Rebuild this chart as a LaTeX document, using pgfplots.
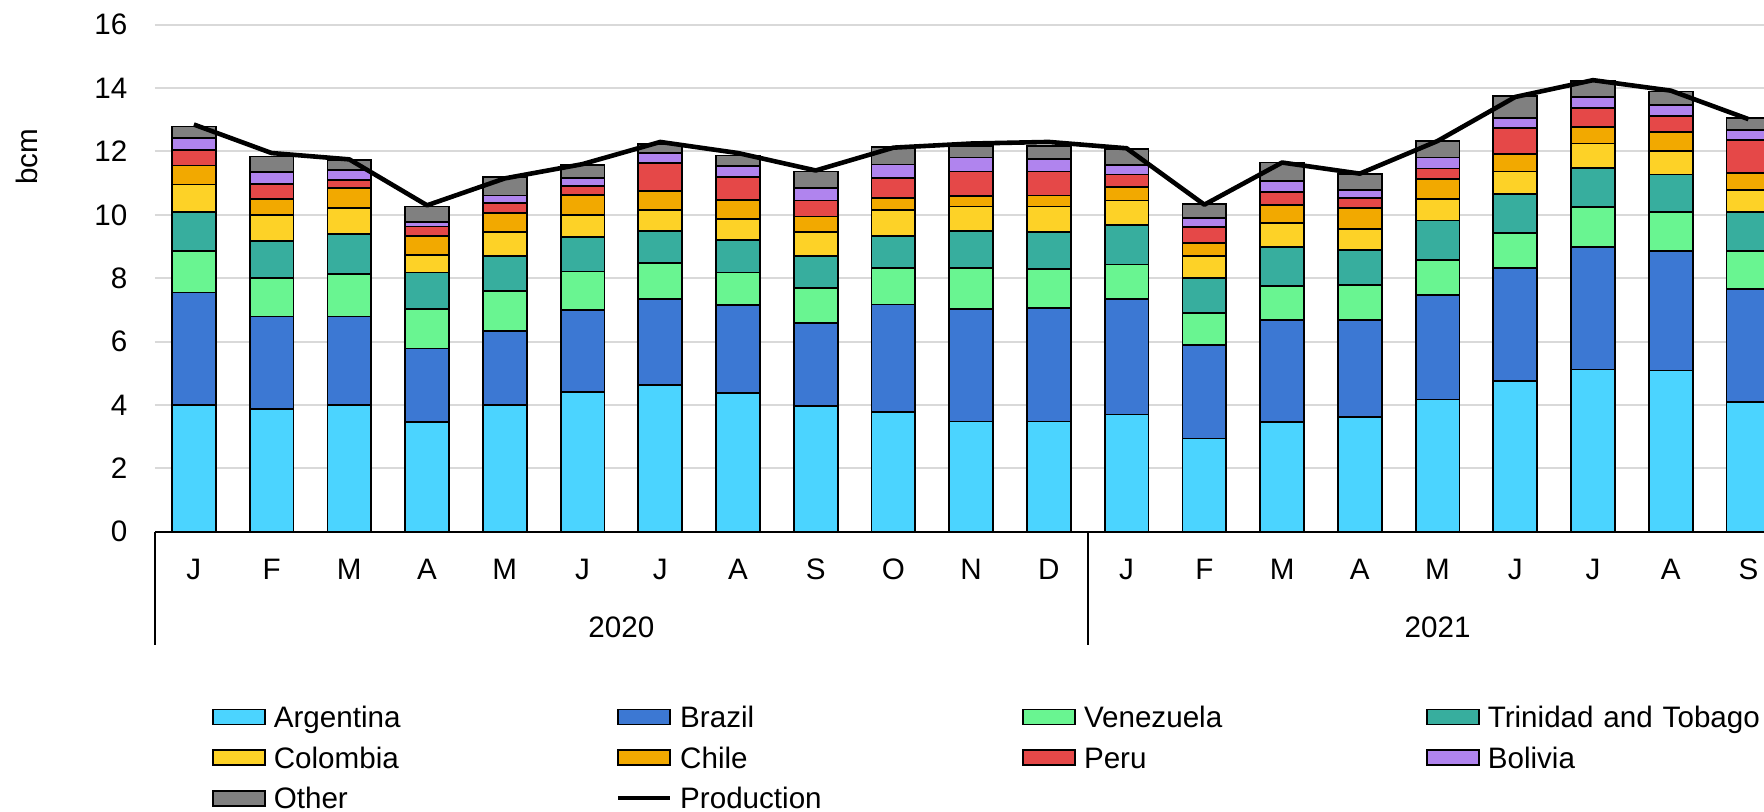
\documentclass[border=0pt]{standalone}
\usepackage{fontspec}
\setmainfont{Liberation Sans}
\usepackage{pgfplots}
\usepackage{pgfplotstable}
\pgfplotsset{compat=1.18}
\definecolor{cArg}{HTML}{4BD4FF}
\definecolor{cBra}{HTML}{3C78D3}
\definecolor{cVen}{HTML}{69F591}
\definecolor{cTT}{HTML}{37AE9E}
\definecolor{cCol}{HTML}{FDD227}
\definecolor{cChi}{HTML}{F2A900}
\definecolor{cPer}{HTML}{E54848}
\definecolor{cBol}{HTML}{B084EE}
\definecolor{cOth}{HTML}{808080}
\definecolor{cGrid}{HTML}{D9D9D9}
\newcommand{\fs}{\fontsize{14.8}{17.5}\selectfont}
\pgfplotsset{
  barleg/.style={legend image code/.code={\draw[##1] (0pt,-3.75pt) rectangle (26pt,3.75pt);}},
  prodleg/.style={legend image code/.code={\draw[##1] (0pt,0pt) -- (26pt,0pt);}},
}

\pgfplotstableread{
x arg bra ven tt col chi per bol oth prod
0 4.00 3.55 1.32 1.23 0.86 0.60 0.49 0.38 0.36 12.85
1 3.87 2.92 1.21 1.18 0.81 0.51 0.47 0.38 0.49 11.95
2 3.99 2.80 1.34 1.26 0.83 0.62 0.26 0.32 0.32 11.75
3 3.45 2.33 1.26 1.14 0.55 0.61 0.29 0.15 0.48 10.30
4 3.99 2.34 1.27 1.11 0.74 0.60 0.32 0.24 0.58 11.15
5 4.41 2.59 1.21 1.08 0.70 0.63 0.30 0.25 0.41 11.60
6 4.62 2.72 1.13 1.03 0.66 0.59 0.88 0.32 0.29 12.30
7 4.38 2.78 1.02 1.02 0.67 0.59 0.73 0.34 0.34 11.95
8 3.96 2.62 1.10 1.03 0.74 0.50 0.50 0.39 0.53 11.40
9 3.78 3.39 1.15 1.02 0.81 0.37 0.65 0.42 0.55 12.12
10 3.48 3.56 1.27 1.17 0.78 0.33 0.78 0.44 0.37 12.25
11 3.48 3.59 1.22 1.18 0.79 0.35 0.76 0.40 0.41 12.30
12 3.70 3.64 1.09 1.26 0.76 0.43 0.39 0.31 0.51 12.10
13 2.94 2.95 1.01 1.10 0.71 0.39 0.51 0.28 0.44 10.32
14 3.46 3.22 1.08 1.22 0.76 0.56 0.42 0.34 0.59 11.65
15 3.62 3.06 1.11 1.11 0.66 0.65 0.32 0.26 0.51 11.30
16 4.17 3.30 1.10 1.25 0.69 0.63 0.32 0.35 0.52 12.33
17 4.75 3.56 1.12 1.24 0.70 0.54 0.84 0.31 0.69 13.72
18 5.12 3.86 1.26 1.24 0.77 0.53 0.60 0.33 0.51 14.25
19 5.09 3.76 1.23 1.19 0.75 0.60 0.51 0.33 0.43 13.92
20 4.09 3.57 1.19 1.23 0.71 0.53 1.03 0.32 0.39 13.02
}\data

\begin{document}
\begin{tikzpicture}[font=\fs]
\begin{axis}[
  scale only axis, width=804.5pt, height=253.5pt,
  xmin=-0.5, xmax=20.2, ymin=0, ymax=16,
  ybar stacked, bar width=21.9pt,
  axis lines*=left,
  y axis line style={draw=none},
  x axis line style={black, line width=1pt},
  ytick={0,2,...,16},
  xtick={0,...,20},
  xticklabels={J,F,M,A,M,J,J,A,S,O,N,D,J,F,M,A,M,J,J,A,S},
  major tick length=0pt,
  ymajorgrids, grid style={cGrid, line width=1pt},
  tick label style={font=\fs},
  /pgf/number format/assume math mode=true,
  yticklabel style={anchor=east, inner xsep=0pt, xshift=-13.6pt},
  xticklabel style={anchor=center, yshift=-18.65pt},
  every axis plot/.append style={draw=black, line width=0.9pt},
  barleg,
  legend columns=4,
  legend cell align=left,
  legend style={at={(axis description cs:0,0)}, anchor=north west, xshift=28.5pt, yshift=-87.3pt,
    draw=none, fill=none, inner sep=0pt, outer sep=0pt, column sep=4pt, row sep=9.7pt, font=\fs,
    nodes={inner sep=0pt, text height=10.6pt, text depth=0pt, text width=167pt, align=left}},
]
\addplot[fill=cArg] table[x=x,y=arg]{\data};
\addplot[fill=cBra] table[x=x,y=bra]{\data};
\addplot[fill=cVen] table[x=x,y=ven]{\data};
\addplot[fill=cTT] table[x=x,y=tt]{\data};
\addplot[fill=cCol] table[x=x,y=col]{\data};
\addplot[fill=cChi] table[x=x,y=chi]{\data};
\addplot[fill=cPer] table[x=x,y=per]{\data};
\addplot[fill=cBol] table[x=x,y=bol]{\data};
\addplot[fill=cOth] table[x=x,y=oth]{\data};
\addlegendimage{black, line width=2.2pt, prodleg}
\legend{Argentina,Brazil,Venezuela,Trinidad and Tobago,Colombia,Chile,Peru,Bolivia,Other,Production}
\coordinate (s0) at (axis cs:-0.5,0);
\coordinate (s1) at (axis cs:11.5,0);
\coordinate (y0) at (axis cs:5.5,0);
\coordinate (y1) at (axis cs:16,0);
\end{axis}
\begin{axis}[scale only axis, width=804.5pt, height=253.5pt,
  xmin=-0.5, xmax=20.2, ymin=0, ymax=16, hide axis, clip=false]
\addplot[black, line width=2.3pt, line join=round] table[x=x,y=prod]{\data};
\end{axis}
\draw[black, line width=1pt] (s0) -- ++(0,-56.6pt);
\draw[black, line width=1pt] (s1) -- ++(0,-56.6pt);
\node at ([yshift=-47.65pt]y0) {2020};
\node at ([yshift=-47.65pt]y1) {2021};
\node[rotate=90] at (-64pt,187.35pt) {bcm};
\pgfresetboundingbox
\path[use as bounding box] (-77.5pt,-139.65pt) rectangle (804.5pt,265.85pt);
\end{tikzpicture}
\end{document}
